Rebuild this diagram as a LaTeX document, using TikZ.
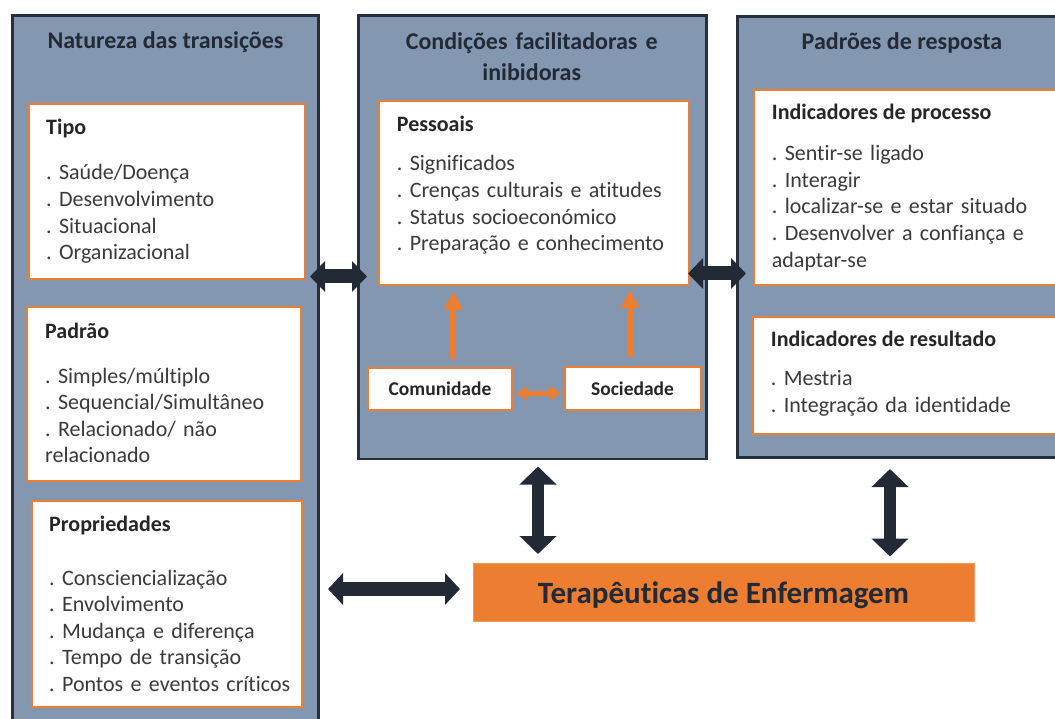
\documentclass[tikz,border=0pt]{standalone}
\usepackage{fontspec}
\setmainfont{Carlito}[Ligatures=NoCommon]
\usetikzlibrary{arrows.meta}
\definecolor{panelfill}{HTML}{8497B0}
\definecolor{darkline}{HTML}{262F3D}
\definecolor{darknavy}{HTML}{222A35}
\definecolor{orangec}{HTML}{ED7D31}
\definecolor{itemtext}{HTML}{3A3A3A}
\definecolor{headtext}{HTML}{262626}
\frenchspacing
\begin{document}
\begin{tikzpicture}[x=1pt,y=-1pt,
  panel/.style={draw=darkline, line width=2.6pt, fill=panelfill, anchor=north west, inner sep=0pt, outer sep=0pt},
  obox/.style={draw=orangec, line width=2pt, fill=white, anchor=north west, inner sep=0pt, outer sep=0pt},
  smallbox/.style={obox, font=\fontsize{19.5}{23}\selectfont\bfseries, text=headtext},
  ptitle/.style={font=\fontsize{24}{31.7}\selectfont\bfseries\frenchspacing, text=darknavy, inner sep=0pt, anchor=base},
  bhead/.style={font=\fontsize{22}{26.5}\selectfont\bfseries, text=headtext, inner sep=0pt, anchor=base west},
  items/.style={font=\fontsize{22}{26.6}\selectfont\frenchspacing, text=itemtext, inner sep=0pt, anchor=base west, text width=300pt, align=left},
  bigarrow/.style={draw=darknavy, line width=#1},
  oarrow/.style={draw=orangec, line width=#1},
]
\useasboundingbox (0,0) rectangle (1055,719);
\fill[white] (0,0) rectangle (1055,719);
\clip (0,0) rectangle (1055,719);

% panels
\node[panel, minimum width=306pt, minimum height=714pt] (left) at (12.5,15.5) {};
\node[panel, minimum width=348pt, minimum height=443.5pt] (mid) at (358.5,15.5) {};
\node[panel, minimum width=340pt, minimum height=441pt] (right) at (737.5,16.5) {};

% titles
\node[ptitle] (tleft) at (165.5,48.3) {Natureza das transições};
\node[ptitle, text width=320pt, align=center] (tmid) at (531.7,49.3) {Condições facilitadoras e\\inibidoras};
\node[ptitle] (tright) at (902,50) {Padrões de resposta};

% left boxes
\node[obox, minimum width=276pt, minimum height=175pt] (tipo) at (29,104.5) {};
\node[bhead] (tipoh) at (46,135) {Tipo};
\node[items] (tipoi) at (46,180) {. Saúde/Doença\\. Desenvolvimento\\. Situacional\\. Organizacional};

\node[obox, minimum width=273.5pt, minimum height=173.5pt] (padrao) at (27,307) {};
\node[bhead] (padraoh) at (45,338) {Padrão};
\node[items] (padraoi) at (45,383) {. Simples/múltiplo\\. Sequencial/Simultâneo\\. Relacionado/ não\\relacionado};

\node[obox, minimum width=270pt, minimum height=206pt] (prop) at (32,501) {};
\node[bhead] (proph) at (49,531) {Propriedades};
\node[items] (propi) at (49,585) {. Consciencialização\\. Envolvimento\\. Mudança e diferença\\. Tempo de transição\\. Pontos e eventos críticos};

% middle boxes
\node[obox, minimum width=310pt, minimum height=184pt] (pess) at (379,101.5) {};
\node[bhead] (pessh) at (396.7,131.7) {Pessoais};
\node[items] (pessi) at (396.7,171) {. Significados\\. Crenças culturais e atitudes\\. Status socioeconómico\\. Preparação e conhecimento};

\node[smallbox, minimum width=144pt, minimum height=42pt] (com) at (368,368) {Comunidade};
\node[smallbox, minimum width=136pt, minimum height=43.5pt] (soc) at (564.5,366.5) {Sociedade};

% right boxes
\node[obox, minimum width=320pt, minimum height=195.5pt] (proc) at (754,90) {};
\node[bhead] (proch) at (771.7,120) {Indicadores de processo};
\node[items] (proci) at (771.7,160.7) {. Sentir-se ligado\\. Interagir\\. localizar-se e estar situado\\. Desenvolver a confiança e\\adaptar-se};

\node[obox, minimum width=320pt, minimum height=116.5pt] (res) at (753,317.5) {};
\node[bhead] (resh) at (770.7,346.7) {Indicadores de resultado};
\node[items] (resi) at (770.7,385.7) {. Mestria\\. Integração da identidade};

% therapeutics
\node[draw=orangec!80!white, line width=1pt, fill=orangec, anchor=north west, inner sep=0pt, outer sep=0pt,
      minimum width=501pt, minimum height=58pt, text height=24pt, text depth=1.4pt,
      font=\fontsize{31}{36}\selectfont\bfseries, text=darknavy] (ter) at (473,563) {Terapêuticas de Enfermagem};

% arrow end coordinates
\coordinate (a1l) at (310,276.5);
\coordinate (a1r) at (367,276.5);
\coordinate (a2l) at (688,273.5);
\coordinate (a2r) at (746,273.5);
\coordinate (v1t) at (538,466.5);
\coordinate (v1b) at (538,554);
\coordinate (v2t) at (890,469);
\coordinate (v2b) at (890,556.5);
\coordinate (hbl) at (328,589);
\coordinate (hbr) at (460,589);
\coordinate (o1b) at (453.3,359);
\coordinate (o1t) at (453.3,291.7);
\coordinate (o2b) at (630,357);
\coordinate (o2t) at (630,290);
\coordinate (o3l) at (516,393.3);
\coordinate (o3r) at (561,393.3);

% dark double arrows
\draw[bigarrow=14pt, {Triangle[width=30pt,length=15pt]}-{Triangle[width=30pt,length=15pt]}] (a1l) -- (a1r);
\draw[bigarrow=14pt, {Triangle[width=30pt,length=15pt]}-{Triangle[width=30pt,length=15pt]}] (a2l) -- (a2r);
\draw[bigarrow=11.6pt, {Triangle[width=36pt,length=18pt]}-{Triangle[width=36pt,length=18pt]}] (v1t) -- (v1b);
\draw[bigarrow=11.6pt, {Triangle[width=36pt,length=18pt]}-{Triangle[width=36pt,length=18pt]}] (v2t) -- (v2b);
\draw[bigarrow=13.5pt, {Triangle[width=31pt,length=15pt]}-{Triangle[width=31pt,length=15pt]}] (hbl) -- (hbr);

% orange arrows
\draw[oarrow=6pt, -{Triangle[width=18pt,length=18pt]}] (o1b) -- (o1t);
\draw[oarrow=6pt, -{Triangle[width=18pt,length=18pt]}] (o2b) -- (o2t);
\draw[oarrow=4.5pt, {Triangle[width=13pt,length=11pt]}-{Triangle[width=13pt,length=11pt]}] (o3l) -- (o3r);
\end{tikzpicture}
\end{document}
